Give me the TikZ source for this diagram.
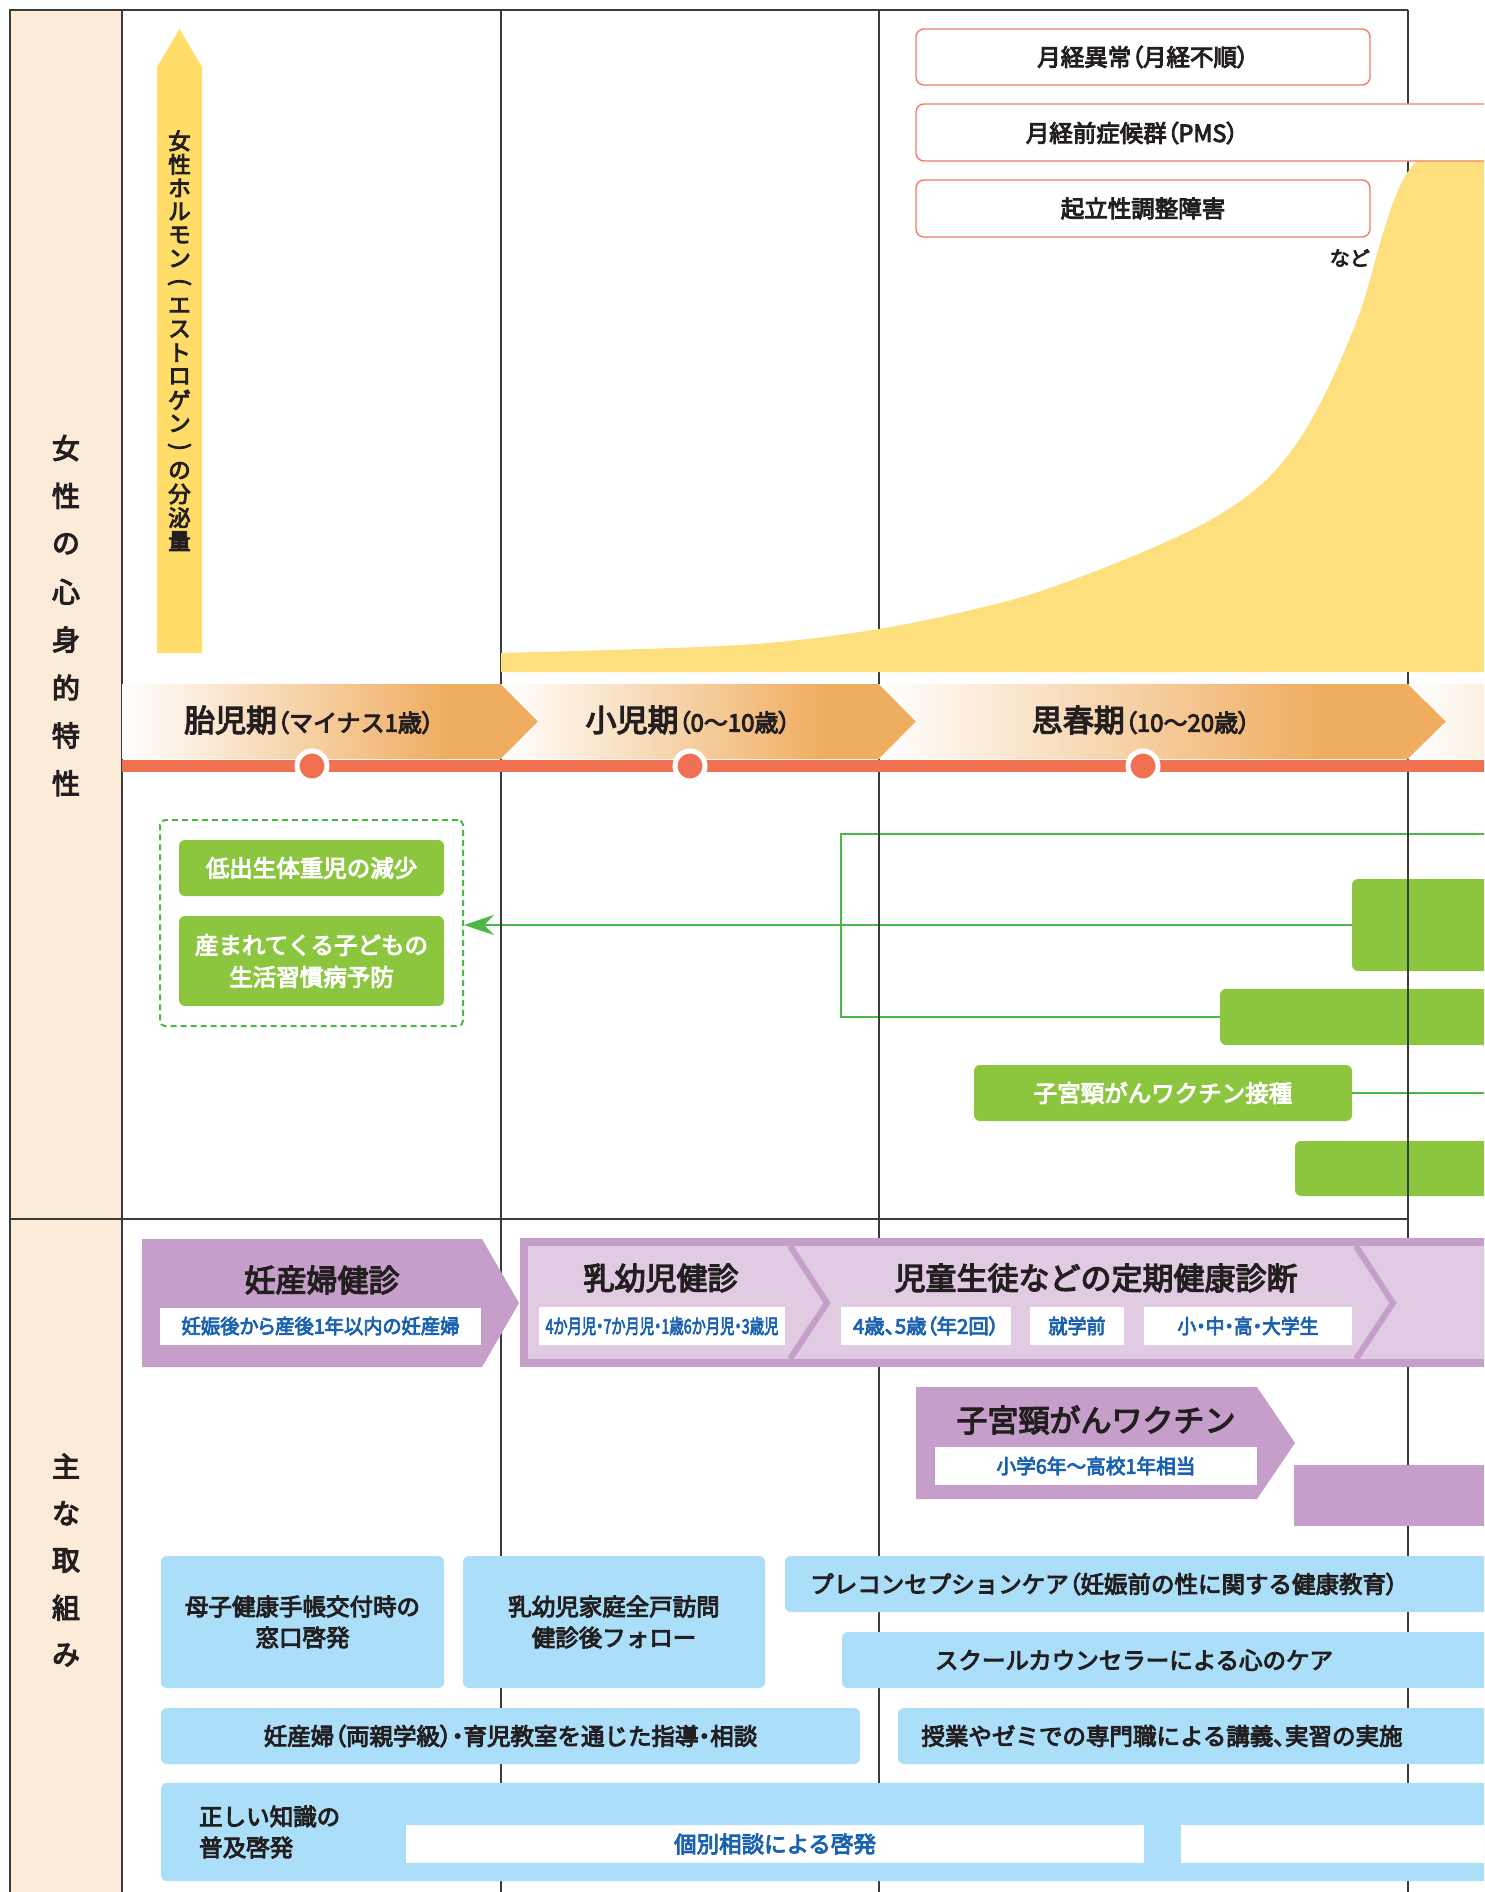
\documentclass[tikz,border=0pt]{standalone}
\usepackage{fontspec}
\setmainfont{Noto Sans CJK JP}[FakeBold=4]
\newfontfamily\palfont{Noto Sans CJK JP}[FakeBold=4,RawFeature={+palt}]
\usetikzlibrary{arrows.meta}
\definecolor{beige}{HTML}{FBEBD8}
\definecolor{gridc}{HTML}{3A3A3A}
\definecolor{yelA}{HTML}{FFDD68}
\definecolor{yelB}{HTML}{FDDF7E}
\definecolor{orng}{HTML}{EFAD60}
\definecolor{redl}{HTML}{F07052}
\definecolor{redbox}{HTML}{F27C68}
\definecolor{grn}{HTML}{8CC63F}
\definecolor{grnl}{HTML}{4CB848}
\definecolor{pur}{HTML}{C59FC9}
\definecolor{purl}{HTML}{E0CBE3}
\definecolor{blu}{HTML}{ABDFF9}
\definecolor{txtb}{HTML}{1B62B0}
\definecolor{txt}{HTML}{231F20}
\pgfdeclarehorizontalshading{bandshade}{100bp}{color(0bp)=(white); color(25bp)=(white); color(64bp)=(orng); color(100bp)=(orng)}
\newcommand\fsz[2]{\fontsize{#1}{#2}\selectfont}
\newcommand\hfitw[2]{\resizebox{#1}{\height}{#2}}
\newcommand\vlp{\rotatebox{-90}{(}}
\newcommand\vrp{\rotatebox{-90}{)}}
\newcommand\lp{{\palfont （}}
\newcommand\rp{{\palfont ）}}
\newcommand\pd{{\palfont ・}}
\begin{document}
\begin{tikzpicture}[x=1pt,y=-1pt,
  grid/.style={draw=gridc,line width=1.8pt},
  sz/.style 2 args={minimum width=#1pt,minimum height=#2pt},
  gbox/.style={fill=grn,rounded corners=6pt,inner sep=0pt,text=white,align=center,font=\fsz{23.5}{32}},
  rbox/.style={draw=redbox,line width=1.4pt,fill=white,rounded corners=8pt,inner sep=0pt,text=txt,font=\fsz{23.5}{30}},
  bbox/.style={fill=blu,rounded corners=6pt,inner sep=0pt,text=txt,align=center,font=\fsz{23.5}{31}},
  wbox/.style={fill=white,inner sep=0pt,text=txtb,font=\fsz{20}{24}\palfont},
  lbl/.style={inner sep=0pt,text=txt},
  big/.style={lbl,font=\fsz{31}{31}},
  mid/.style={lbl,font=\fsz{23.5}{31}},
  vch/.style={lbl,font=\fsz{22.5}{22.5}},
  lch/.style={lbl,font=\fsz{28}{28}},
  dot/.style={circle,fill=redl,draw=white,line width=5pt,minimum size=30pt,inner sep=0pt},
  gline/.style={draw=grnl,line width=2.5pt}
]
\path[use as bounding box] (0,0) rectangle (1484,1892);
\clip (0,0) rectangle (1484,1892);
\fill[white] (0,0) rectangle (1484,1892);
% left column
\fill[beige] (10,10) rectangle (122,1892);

% ---------- green part (below grid lines) ----------
\node[draw=grnl,line width=2pt,dash pattern=on 6pt off 4pt,rounded corners=5pt,sz={303}{206},inner sep=0pt] (dbox) at (311.5,923) {};
\node[gbox,sz={265}{56}] (g1) at (311.5,868) {低出生体重児の減少};
\node[gbox,sz={265}{90}] (g2) at (311.5,961) {産まれてくる子どもの\\生活習慣病予防};
\node[gbox,sz={148}{92}] (gA) at (1426,925) {};
\node[gbox,sz={280}{56}] (gB) at (1360,1017) {};
\node[gbox,sz={378}{56}] (gC) at (1163,1093) {子宮頸がんワクチン接種};
\node[gbox,sz={205}{55}] (gD) at (1397.5,1168.5) {};
\coordinate (brTop) at (1500,834);
\coordinate (brCorner) at (841,834);
\coordinate (cEnd) at (1500,1093);
\draw[gline] (brTop) -- (brCorner) |- (gB.west);
\draw[gline,-{Stealth[length=30pt,width=20pt]}] (gA.west) -- (gA.west -| dbox.east);
\draw[gline] (gC.east) -- (cEnd);

% ---------- grid ----------
\draw[grid] (10,1892) -- (10,10) -- (1408,10);
\draw[grid] (122,10) -- (122,1892);
\draw[grid] (501,10) -- (501,1892);
\draw[grid] (879,10) -- (879,1892);
\draw[grid] (1408,10) -- (1408,1892);
\draw[grid] (10,1219) -- (1408,1219);

% ---------- hormone curve & arrow ----------
\fill[yelB] (501,672) -- (501,653) -- plot[smooth,tension=0.55] coordinates {(501,653) (740,645) (879,629) (1000,603) (1072,580) (1150,549) (1214,518) (1262,484) (1297,443) (1328,388) (1360,312) (1381,240) (1396,195) (1414,164) (1440,151) (1500,148)} -- (1500,672) -- cycle;
\fill[yelA] (157,653) -- (157,67) -- (179.5,29) -- (202,67) -- (202,653) -- cycle;
\foreach \ch [count=\i from 0] in {女,性,ホ,ル,モ,ン,\vlp,エ,ス,ト,ロ,ゲ,ン,\vrp,の,分,泌,量}
  \node[vch] (v\i) at (179.5,{140.8+23.55*\i}) {\ch};

% ---------- red boxes ----------
\node[rbox,sz={454}{56}] (r1) at (1143,57) {月経異常\lp 月経不順\rp};
\node[rbox,sz={584}{57}] (r2) at (1208,132.5) {};
\node[mid] (r2t) at (1132,133) {月経前症候群\lp PMS\rp};
\node[rbox,sz={454}{57}] (r3) at (1143,208.5) {起立性調整障害};
\node[lbl,font=\fsz{20}{20},anchor=east] (nado) at (1370,258) {など};

% ---------- left labels ----------
\foreach \ch [count=\i from 0] in {女,性,の,心,身,的,特,性}
  \node[lch] (L\i) at (66,{448+47.9*\i}) {\ch};
\foreach \ch [count=\i from 0] in {主,な,取,組,み}
  \node[lch] (M\i) at (66,{1466+47.25*\i}) {\ch};

% ---------- period band ----------
\shade[shading=bandshade] (122,684) -- (501,684) -- (538,721.5) -- (501,759) -- (122,759) -- cycle;
\shade[shading=bandshade] (501,684) -- (879,684) -- (916,721.5) -- (879,759) -- (501,759) -- (538,721.5) -- cycle;
\shade[shading=bandshade] (879,684) -- (1408,684) -- (1446,721.5) -- (1408,759) -- (879,759) -- (916,721.5) -- cycle;
\shade[left color=white,right color=orng!22] (1408,684) -- (1500,684) -- (1500,759) -- (1408,759) -- (1446,721.5) -- cycle;
\fill[redl] (122,760) rectangle (1500,772);
\node[dot] (d1) at (312,766) {};
\node[dot] (d2) at (690,766) {};
\node[dot] (d3) at (1143,766) {};
\node[lbl] (p1) at (309,720) {{\fsz{31}{31}胎児期}{\fsz{24}{24}\lp マイナス1歳\rp}};
\node[lbl] (p2) at (688,720) {{\fsz{31}{31}小児期}{\fsz{24}{24}\lp 0〜10歳\rp}};
\node[lbl] (p3) at (1141,720) {{\fsz{31}{31}思春期}{\fsz{24}{24}\lp 10〜20歳\rp}};

% ---------- purple ----------
\fill[pur] (142,1239) -- (482,1239) -- (519,1303) -- (482,1367) -- (142,1367) -- cycle;
\node[big] (h1) at (322,1280) {妊産婦健診};
\node[wbox,sz={321}{37}] (w1) at (320.5,1326) {\hfitw{278pt}{妊娠後から産後1年以内の妊産婦}};
\fill[pur] (520,1238) rectangle (1500,1367);
\fill[purl] (528,1246) rectangle (1500,1359);
\draw[pur,line width=6pt] (790,1246) -- (827,1303) -- (790,1359);
\draw[pur,line width=6pt] (1356,1246) -- (1393,1303) -- (1356,1359);
\node[big] (h2) at (661,1278) {乳幼児健診};
\node[wbox,sz={246}{38}] (w2) at (662,1326) {\hfitw{233pt}{4か月児・7か月児・1歳6か月児・3歳児}};
\node[big] (h3) at (1096,1278) {児童生徒などの定期健康診断};
\node[wbox,sz={170}{38}] (w3) at (926,1326) {\hfitw{146pt}{4歳、5歳（年2回）}};
\node[wbox,sz={94}{38}] (w4) at (1077,1326) {\hfitw{57pt}{就学前}};
\node[wbox,sz={208}{38}] (w5) at (1248,1326) {\hfitw{141pt}{小・中・高・大学生}};
\fill[pur] (916,1387) -- (1257,1387) -- (1295,1443) -- (1257,1499) -- (916,1499) -- cycle;
\node[big] (h4) at (1096,1420) {子宮頸がんワクチン};
\node[wbox,sz={322}{38}] (w6) at (1096,1466) {\hfitw{199pt}{小学6年〜高校1年相当}};
\fill[pur] (1294,1465) rectangle (1500,1526);

% ---------- blue ----------
\node[bbox,sz={283}{132}] (b1) at (302.5,1622) {母子健康手帳交付時の\\窓口啓発};
\node[bbox,sz={302}{132}] (b2) at (614,1622) {乳幼児家庭全戸訪問\\健診後フォロー};
\node[bbox,sz={715}{56}] (b3) at (1142.5,1584) {};
\node[mid] (b3t) at (1104,1584) {プレコンセプションケア\lp 妊娠前の性に関する健康教育\rp};
\node[bbox,sz={658}{56}] (b4) at (1171,1660) {};
\node[mid] (b4t) at (1134,1660) {スクールカウンセラーによる心のケア};
\node[bbox,sz={699}{56}] (b5) at (510.5,1736) {妊産婦\lp 両親学級\rp\pd 育児教室を通じた指導\pd 相談};
\node[bbox,sz={602}{56}] (b6) at (1199,1736) {};
\node[mid] (b6t) at (1162,1736) {授業やゼミでの専門職による講義{\palfont 、}実習の実施};
\node[bbox,sz={1339}{98}] (b7) at (830.5,1832) {};
\node[mid,align=left,anchor=west] (b7t) at (199,1832) {正しい知識の\\普及啓発};
\node[wbox,sz={738}{38},font=\fsz{22.5}{24}] (w7) at (775,1844) {個別相談による啓発};
\node[wbox,sz={319}{38}] (w8) at (1340.5,1844) {};
\end{tikzpicture}
\end{document}
